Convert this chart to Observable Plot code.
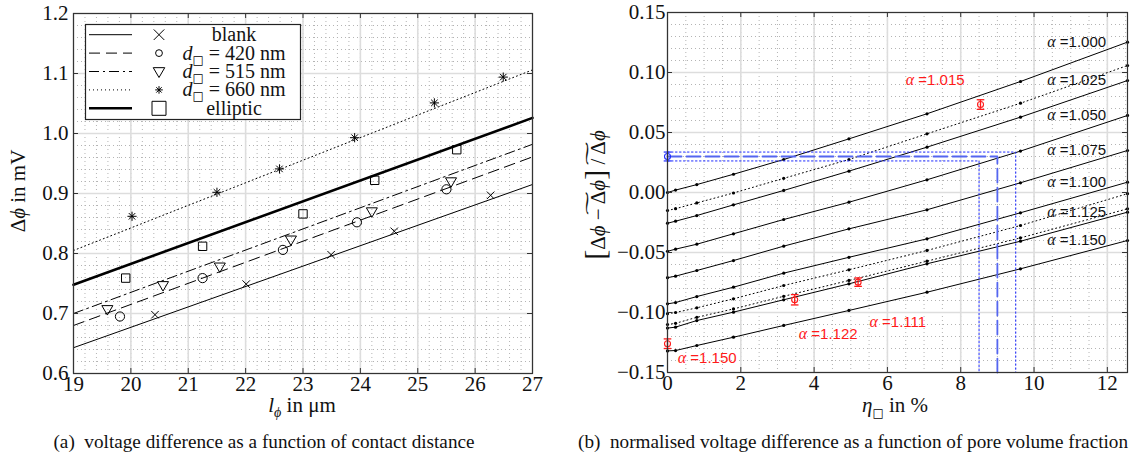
<!DOCTYPE html>
<html><head><meta charset="utf-8">
<script src="https://cdn.jsdelivr.net/npm/d3@7"></script>
<script src="https://cdn.jsdelivr.net/npm/@observablehq/plot@0.6"></script>
<style>
body{margin:0;background:#fff;}
#wrap{position:relative;width:1136px;height:462px;overflow:hidden;font-family:'Liberation Serif','Times New Roman',serif;background:#fff;}
#left,#right,#legend{position:absolute;top:0;}
#left{left:0;} #right{left:560px;}
#legend{left:85px;top:24px;}
.cap{position:absolute;top:432px;font-size:19.2px;line-height:20px;white-space:nowrap;transform:translateX(-50%);color:#111;}
svg{overflow:visible;}
.gs{opacity:0.99;}
</style></head><body>
<div id="wrap"><div id="left"></div><div id="right"></div><div id="legend"></div>
<div class="cap" style="left:264px">(a)&nbsp; voltage difference as a function of contact distance</div>
<div class="cap" style="left:853px">(b)&nbsp; normalised voltage difference as a function of pore volume fraction</div>
</div>
<script>
// ---------- Panel (a) data: contact distance l (µm) vs voltage difference (mV)
const blankL = [20.42, 22.01, 23.49, 24.59, 26.27];
const blankV = [0.698, 0.749, 0.798, 0.837, 0.897];
const d420L = [19.81, 21.25, 22.65, 23.94, 25.50];
const d420V = [0.695, 0.759, 0.806, 0.852, 0.907];
const d515L = [19.59, 20.56, 21.55, 22.79, 24.20, 25.58];
const d515V = [0.707, 0.747, 0.778, 0.823, 0.870, 0.920];
const d660L = [20.02, 21.50, 22.59, 23.90, 25.29, 26.49];
const d660V = [0.862, 0.902, 0.941, 0.993, 1.051, 1.094];
const ellL = [19.91, 21.25, 23.00, 24.25, 25.68];
const ellV = [0.759, 0.812, 0.866, 0.922, 0.973];
// linear fits, evaluated at the ends of the axis
const fitL = [19, 27];
const fitBlank = [0.643, 0.915];
const fit420 = [0.680, 0.961];
const fit515 = [0.700, 0.982];
const fit660 = [0.805, 1.106];
const fitEll = [0.748, 1.026];
const legendLabels = ["blank", "d□ = 420 nm", "d□ = 515 nm", "d□ = 660 nm", "elliptic"];

const lTicksX = [19, 20, 21, 22, 23, 24, 25, 26, 27];
const lTicksY = [0.6, 0.7, 0.8, 0.9, 1.0, 1.1, 1.2];

// ---------- Panel (b) data: pore volume fraction eta (%) vs normalised difference
const etaPts = [0, 0.22, 0.8, 1.8, 3.17, 4.95, 7.08, 9.63, 12.55];
const alphas = ["1.000", "1.015", "1.025", "1.050", "1.075", "1.100", "1.111", "1.122", "1.125", "1.150"];
const dottedAlphas = ["1.015", "1.111", "1.122"];
const a1000 = [0.000, 0.0020, 0.0066, 0.0152, 0.0275, 0.0447, 0.0656, 0.0925, 0.1253];
const a1015 = [-0.0150, -0.0135, -0.0087, -0.0004, 0.0118, 0.0275, 0.0489, 0.0744, 0.1058];
const a1025 = [-0.0256, -0.0239, -0.0192, -0.0103, 0.0017, 0.0178, 0.0378, 0.0628, 0.0933];
const a1050 = [-0.0490, -0.0472, -0.0431, -0.0344, -0.0225, -0.0081, 0.0106, 0.0345, 0.0642];
const a1075 = [-0.0710, -0.0697, -0.0650, -0.0567, -0.0447, -0.0303, -0.0144, 0.0081, 0.0350];
const a1100 = [-0.0928, -0.0917, -0.0867, -0.0789, -0.0672, -0.0540, -0.0386, -0.0169, 0.0086];
const a1111 = [-0.1010, -0.1000, -0.0961, -0.0886, -0.0775, -0.0644, -0.0483, -0.0275, -0.0010];
const a1122 = [-0.1100, -0.1090, -0.1040, -0.0970, -0.0865, -0.0733, -0.0572, -0.0378, -0.0136];
const a1125 = [-0.1130, -0.1122, -0.1067, -0.0997, -0.0894, -0.0761, -0.0594, -0.0406, -0.0164];
const a1150 = [-0.1320, -0.1317, -0.1275, -0.1206, -0.1108, -0.0983, -0.0831, -0.0636, -0.0400];
const seriesVals = [a1000, a1015, a1025, a1050, a1075, a1100, a1111, a1122, a1125, a1150];
const labelEta = 10.36;            // where the black alpha labels start
// measurements (red) with error bars
const redEta = [8.54, 5.20, 3.47, 0.0];
const redVal = [0.0733, -0.0747, -0.0894, -0.126];
const redErr = [0.0040, 0.0035, 0.0043, 0.0040];
const redText = ["α =1.015", "α =1.111", "α =1.122", "α =1.150"];
const redTextEta = [6.50, 5.51, 3.58, 0.28];
const redTextVal = [0.0933, -0.1083, -0.1180, -0.1380];
// blue reference measurement and its read-off pore fraction
const blueEta = 0.0, blueVal = 0.030, blueErr = 0.0037;
const etaRead = [8.5, 9.0, 9.5];   // low, mid, high estimate
const rTicksX = [0, 2, 4, 6, 8, 10, 12];
const rTicksY = [-0.15, -0.10, -0.05, 0.00, 0.05, 0.10, 0.15];

// ---------- helpers
const SERIF = "Liberation Serif, DejaVu Serif, serif";
const SANS = "Liberation Sans, DejaVu Sans, sans-serif";
const SQ = "DejaVu Sans, Noto Sans CJK JP";
const range = (a, b, s) => { const n = Math.round((b - a) / s); return d3.range(n + 1).map(i => +(a + i * s).toFixed(6)); };
const zip = (xs, ys) => xs.map((x, i) => ({x, y: ys[i]}));
const rOf = size => Math.sqrt(size / Math.PI);
const triDown = {draw(c, s) { const r = rOf(s); c.moveTo(-r * 1.2, -r * 0.8); c.lineTo(r * 1.2, -r * 0.8); c.lineTo(0, r * 1.25); c.closePath(); }};
const star8 = {draw(c, s) { const r = rOf(s); for (let k = 0; k < 4; k++) { const a = k * Math.PI / 4; c.moveTo(-r * Math.cos(a), -r * Math.sin(a)); c.lineTo(r * Math.cos(a), r * Math.sin(a)); } }};
const xMark = {draw(c, s) { const r = rOf(s) * 0.75; c.moveTo(-r, -r); c.lineTo(r, r); c.moveTo(-r, r); c.lineTo(r, -r); }};
const sq = {draw(c, s) { const r = rOf(s); c.rect(-r, -r, 2 * r, 2 * r); }};
const circ = {draw(c, s) { const r = rOf(s); c.moveTo(r, 0); c.arc(0, 0, r, 0, 2 * Math.PI); }};
const hline = {draw(c, s) { const r = rOf(s); c.moveTo(-r, 0); c.lineTo(r, 0); }};
const gridMinor = {stroke: "#b4b4b4", strokeOpacity: 1, strokeWidth: 1, strokeDasharray: "1,3"};
const gridMajor = {stroke: "#dddddd", strokeOpacity: 1, strokeWidth: 1.6};
const axisFont = {fontFamily: SERIF, fontSize: 21, fill: "#111"};

const styles = {
  blank: {line: {strokeWidth: 1}, sym: xMark, r: 5, lr: 7},
  d420: {line: {strokeWidth: 1, strokeDasharray: "11,6"}, sym: circ, r: 4.6, lr: 3.4},
  d515: {line: {strokeWidth: 1, strokeDasharray: "10,4,2,4"}, sym: triDown, r: 4.6, lr: 4.8},
  d660: {line: {strokeWidth: 1, strokeDasharray: "1,3"}, sym: star8, r: 4.6, lr: 3.8},
  ell: {line: {strokeWidth: 2.6}, sym: sq, r: 4.2, lr: 7}
};
const groups = [
  ["blank", blankL, blankV, fitBlank],
  ["d420", d420L, d420V, fit420],
  ["d515", d515L, d515V, fit515],
  ["d660", d660L, d660V, fit660],
  ["ell", ellL, ellV, fitEll]
];

function rich(parent, segs, attrs) {
  const t = parent.append("text");
  for (const [k, v] of Object.entries(attrs)) t.attr(k, v);
  for (const s of segs) {
    const sp = t.append("tspan").text(s.t);
    if (s.i) sp.attr("font-style", "italic");
    if (s.size) sp.attr("font-size", s.size);
    if (s.dy) sp.attr("dy", s.dy);
    if (s.f) sp.style("font-family", s.f);
    if (s.fill) sp.attr("fill", s.fill);
    if (s.w) sp.attr("font-weight", s.w);
  }
  return t;
}
function serifTicks(svg) {
  d3.select(svg).selectAll("g[aria-label*='tick label'] text")
    .style("font-family", SERIF).style("font-size", "21px").attr("fill", "#111");
}

// ---------- Panel (a)
const LW = 560, LH = 420, LM = {l: 73, r: 28, t: 13, b: 47};
const lFH = LH - LM.t - LM.b, lFW = LW - LM.l - LM.r;
const leftMarks = [
  Plot.gridX(range(19, 27, 0.2), gridMinor), Plot.gridY(range(0.6, 1.2, 0.02), gridMinor),
  Plot.gridX(lTicksX, gridMajor), Plot.gridY(lTicksY, gridMajor)
];
for (const [k, xs, ys, fit] of groups) {
  leftMarks.push(Plot.line(zip(fitL, fit), {x: "x", y: "y", stroke: "black", ...styles[k].line}));
}
for (const [k, xs, ys] of groups) {
  leftMarks.push(Plot.dot(zip(xs, ys), {x: "x", y: "y", symbol: styles[k].sym, r: styles[k].r, stroke: "black", fill: "none", strokeWidth: 1}));
}
leftMarks.push(
  Plot.tickX(lTicksX, {x: d => d, insetTop: lFH - 5, stroke: "#333"}),
  Plot.tickX(lTicksX, {x: d => d, insetBottom: lFH - 5, stroke: "#333"}),
  Plot.tickY(lTicksY, {y: d => d, insetRight: lFW - 5, stroke: "#333"}),
  Plot.tickY(lTicksY, {y: d => d, insetLeft: lFW - 5, stroke: "#333"}),
  Plot.frame({stroke: "#333", strokeWidth: 1.2}),
  Plot.axisX(lTicksX, {tickSize: 0, tickPadding: 3, tickFormat: d3.format("d"), label: null, ...axisFont}),
  Plot.axisY(lTicksY, {tickSize: 0, tickPadding: 5, tickFormat: d3.format(".1f"), label: null, ...axisFont})
);
const L = Plot.plot({
  width: LW, height: LH, marginLeft: LM.l, marginRight: LM.r, marginTop: LM.t, marginBottom: LM.b,
  style: {fontFamily: SERIF, fontSize: "21px", color: "#111", background: "transparent", overflow: "visible"},
  x: {domain: [19, 27]}, y: {domain: [0.6, 1.2]},
  marks: leftMarks
});
document.getElementById("left").appendChild(L);
serifTicks(L);
{
  const s = d3.select(L);
  rich(s, [{t: "Δ"}, {t: "ϕ", i: 1}, {t: " in mV"}],
    {transform: "translate(25,191) rotate(-90)", "text-anchor": "middle", "font-family": SERIF, "font-size": 21, fill: "#111"});
  rich(s, [{t: "l", i: 1}, {t: "ϕ", i: 1, size: 14, dy: 5}, {t: " in μm", dy: -5}],
    {transform: "translate(302,412)", "text-anchor": "middle", "font-family": SERIF, "font-size": 21, fill: "#111"});
}

// legend
{
  const w = 215, h = 95, rows = [10.7, 29.1, 47.5, 65.9, 84.3];
  const sv = d3.select("#legend").append("svg").attr("width", w + 2).attr("height", h + 2);
  sv.append("rect").attr("x", 0.5).attr("y", 0.5).attr("width", w).attr("height", h).attr("fill", "white").attr("stroke", "#222").attr("stroke-width", 1.2);
  groups.forEach(([k], i) => {
    const st = styles[k];
    sv.append("line").attr("x1", 4).attr("x2", 47).attr("y1", rows[i]).attr("y2", rows[i])
      .attr("stroke", "black").attr("stroke-width", st.line.strokeWidth).attr("stroke-dasharray", st.line.strokeDasharray || null);
    sv.append("path").attr("transform", `translate(74,${rows[i]})`).attr("d", d3.symbol(st.sym, Math.PI * st.lr * st.lr)())
      .attr("fill", "none").attr("stroke", "black").attr("stroke-width", 1);
    const lab = legendLabels[i];
    const segs = lab.startsWith("d□") ? [{t: "d", i: 1}, {t: "□", size: 12, dy: 4, f: SQ, fill: "#000", w: "bold"}, {t: lab.slice(2), dy: -4}] : [{t: lab}];
    rich(sv, segs, {x: 149, y: rows[i] + 6.5, "text-anchor": "middle", "font-family": SERIF, "font-size": 20, fill: "#111", class: "gs"});
  });
}

// ---------- Panel (b)
const RW = 576, RH = 420, RM = {l: 107, r: 9, t: 12, b: 48};
const rFH = RH - RM.t - RM.b, rFW = RW - RM.l - RM.r;
const rows = [];
alphas.forEach((a, i) => etaPts.forEach((e, j) => rows.push({a, x: e, y: seriesVals[i][j]})));
const solidRows = rows.filter(d => !dottedAlphas.includes(d.a));
const dottedRows = rows.filter(d => dottedAlphas.includes(d.a));
const ends = alphas.map((a, i) => ({a, y: seriesVals[i][seriesVals[i].length - 1]})).filter(d => !dottedAlphas.includes(d.a));
const red = redEta.map((x, i) => ({x, y: redVal[i], lo: redVal[i] - redErr[i], hi: redVal[i] + redErr[i]}));
const redCaps = red.flatMap(d => [{x: d.x, y: d.lo}, {x: d.x, y: d.hi}]);
const redLab = redText.map((t, i) => ({t, x: redTextEta[i], y: redTextVal[i]}));
const blue = [{x: blueEta, y: blueVal, lo: blueVal - blueErr, hi: blueVal + blueErr}];
const yBottom = rTicksY[0];
const blueMid = [{x: blueEta, y: blueVal}, {x: etaRead[1], y: blueVal}, {x: etaRead[1], y: yBottom}];
const blueLo = [{x: blueEta, y: blueVal - blueErr}, {x: etaRead[0], y: blueVal - blueErr}, {x: etaRead[0], y: yBottom}];
const blueHi = [{x: blueEta, y: blueVal + blueErr}, {x: etaRead[2], y: blueVal + blueErr}, {x: etaRead[2], y: yBottom}];
const RED = "#ff1a1a", BLUE = "#1e2bff";

const R = Plot.plot({
  width: RW, height: RH, marginLeft: RM.l, marginRight: RM.r, marginTop: RM.t, marginBottom: RM.b,
  style: {fontFamily: SERIF, fontSize: "21px", color: "#111", background: "transparent", overflow: "visible"},
  x: {domain: [0, 12.55]}, y: {domain: [-0.15, 0.15]},
  marks: [
    Plot.gridX(range(0, 12.5, 0.5), gridMinor), Plot.gridY(range(-0.15, 0.15, 0.01), gridMinor),
    Plot.gridX(rTicksX, gridMajor), Plot.gridY(rTicksY, gridMajor),
    Plot.line(solidRows, {x: "x", y: "y", z: "a", stroke: "black", strokeWidth: 1, clip: true}),
    Plot.line(dottedRows, {x: "x", y: "y", z: "a", stroke: "black", strokeWidth: 1, strokeDasharray: "1,3", clip: true}),
    Plot.dot(rows, {x: "x", y: "y", r: 1.6, fill: "black"}),
    Plot.line(blueLo, {x: "x", y: "y", stroke: BLUE, strokeWidth: 1, strokeDasharray: "1.5,2.5"}),
    Plot.line(blueHi, {x: "x", y: "y", stroke: BLUE, strokeWidth: 1, strokeDasharray: "1.5,2.5"}),
    Plot.line(blueMid, {x: "x", y: "y", stroke: "#5566f0", strokeWidth: 1.8, strokeDasharray: "14,5"}),
    Plot.ruleX(blue, {x: "x", y1: "lo", y2: "hi", stroke: BLUE, strokeWidth: 1.2}),
    Plot.dot(blue.flatMap(d => [{x: d.x, y: d.lo}, {x: d.x, y: d.hi}]), {x: "x", y: "y", symbol: hline, r: 3.8, stroke: BLUE, fill: "none", strokeWidth: 1.2}),
    Plot.dot(blue, {x: "x", y: "y", r: 3, stroke: BLUE, fill: "none", strokeWidth: 1.1}),
    Plot.ruleX(red, {x: "x", y1: "lo", y2: "hi", stroke: RED, strokeWidth: 1.3}),
    Plot.dot(redCaps, {x: "x", y: "y", symbol: hline, r: 3.8, stroke: RED, fill: "none", strokeWidth: 1.3}),
    Plot.dot(red, {x: "x", y: "y", r: 3, stroke: RED, fill: "none", strokeWidth: 1.1}),
    Plot.text(ends, {x: () => labelEta, y: "y", text: d => `α =${d.a}`, textAnchor: "start", fontFamily: SANS, fontSize: 15, fill: "#111"}),
    Plot.text(redLab, {x: "x", y: "y", text: "t", textAnchor: "start", fontFamily: SANS, fontSize: 15, fill: RED}),
    Plot.tickX(rTicksX, {x: d => d, insetTop: rFH - 5, stroke: "#333"}),
    Plot.tickX(rTicksX, {x: d => d, insetBottom: rFH - 5, stroke: "#333"}),
    Plot.tickY(rTicksY, {y: d => d, insetRight: rFW - 5, stroke: "#333"}),
    Plot.tickY(rTicksY, {y: d => d, insetLeft: rFW - 5, stroke: "#333"}),
    Plot.frame({stroke: "#333", strokeWidth: 1.2}),
    Plot.axisX(rTicksX, {tickSize: 0, tickPadding: 3, tickFormat: d3.format("d"), label: null, ...axisFont}),
    Plot.axisY(rTicksY, {tickSize: 0, tickPadding: 2, tickFormat: d => d3.format(".2f")(Math.round(d * 100) / 100), label: null, ...axisFont})
  ]
});
document.getElementById("right").appendChild(R);
serifTicks(R);
{
  const s = d3.select(R);
  s.selectAll("text").filter(function () { return this.textContent.startsWith("α ="); }).each(function () {
    const rest = this.textContent.slice(1);
    const t = d3.select(this); t.text("");
    t.append("tspan").style("font-family", SERIF).attr("font-style", "italic").attr("font-size", 16).text("α");
    t.append("tspan").text(rest);
  });
  rich(s, [{t: "η", i: 1}, {t: "□", size: 12, dy: 5, f: SQ, fill: "#000", w: "bold"}, {t: " in %", dy: -5}],
    {transform: "translate(335,412)", "text-anchor": "middle", "font-family": SERIF, "font-size": 21, fill: "#111", class: "gs"});
  // y label with tildes
  const g = s.append("g").attr("transform", "translate(45,195) rotate(-90)").attr("font-family", SERIF).attr("font-size", 21).attr("fill", "#111");
  const segs = [{t: "[", size: 30}, {t: "Δ"}, {t: "ϕ", i: 1}, {t: " − "}, {t: "Δ", tl: 1}, {t: "ϕ", i: 1}, {t: "]", size: 30}, {t: " / "}, {t: "Δ", tl: 1}, {t: "ϕ", i: 1}];
  const t = rich(g, segs, {"text-anchor": "middle"});
  let idx = 0; const tl = [];
  segs.forEach(sg => { if (sg.tl) tl.push(idx); idx += sg.t.length; });
  const node = t.node();
  tl.forEach(a => {
    const x0 = node.getStartPositionOfChar(a).x, x1 = node.getEndPositionOfChar(a + 1).x;
    g.append("text").attr("x", x0 + 1).attr("y", -5).attr("textLength", x1 - x0 - 1).attr("lengthAdjust", "spacingAndGlyphs").attr("font-size", 22).text("˜");
  });
}
</script>
</body></html>
